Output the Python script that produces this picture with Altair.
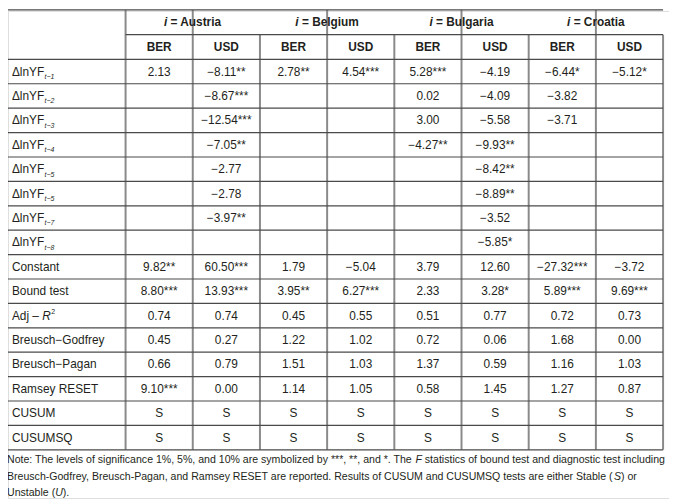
import altair as alt
import pandas as pd

# ---------------- data ----------------
countries = ["Austria", "Belgium", "Bulgaria", "Croatia"]
currencies = ["BER", "USD"]

lag_subscripts = ["t−1", "t−2", "t−3", "t−4", "t−5", "t−5", "t−7", "t−8"]
other_labels = ["Constant", "Bound test", "ADJR2", "Breusch−Godfrey", "Breusch−Pagan",
                "Ramsey RESET", "CUSUM", "CUSUMSQ"]

austria_ber = ["2.13", "", "", "", "", "", "", "", "9.82**", "8.80***", "0.74", "0.45", "0.66", "9.10***", "S", "S"]
austria_usd = ["−8.11**", "−8.67***", "−12.54***", "−7.05**", "−2.77", "−2.78", "−3.97**", "", "60.50***", "13.93***", "0.74", "0.27", "0.79", "0.00", "S", "S"]
belgium_ber = ["2.78**", "", "", "", "", "", "", "", "1.79", "3.95**", "0.45", "1.22", "1.51", "1.14", "S", "S"]
belgium_usd = ["4.54***", "", "", "", "", "", "", "", "−5.04", "6.27***", "0.55", "1.02", "1.03", "1.05", "S", "S"]
bulgaria_ber = ["5.28***", "0.02", "3.00", "−4.27**", "", "", "", "", "3.79", "2.33", "0.51", "0.72", "1.37", "0.58", "S", "S"]
bulgaria_usd = ["−4.19", "−4.09", "−5.58", "−9.93**", "−8.42**", "−8.89**", "−3.52", "−5.85*", "12.60", "3.28*", "0.77", "0.06", "0.59", "1.45", "S", "S"]
croatia_ber = ["−6.44*", "−3.82", "−3.71", "", "", "", "", "", "−27.32***", "5.89***", "0.72", "1.68", "1.16", "1.27", "S", "S"]
croatia_usd = ["−5.12*", "", "", "", "", "", "", "", "−3.72", "9.69***", "0.73", "0.00", "1.03", "0.87", "S", "S"]

columns = [austria_ber, austria_usd, belgium_ber, belgium_usd,
           bulgaria_ber, bulgaria_usd, croatia_ber, croatia_usd]

note_lines = [
    [("Note: The levels of significance 1%, 5%, and 10% are symbolized by ***, **, and *. The ", "normal"),
     ("F", "italic"),
     (" statistics of bound test and diagnostic test including", "normal")],
    [("Breusch-Godfrey, Breusch-Pagan, and Ramsey RESET are reported. Results of CUSUM and CUSUMSQ tests are either Stable (", "normal"),
     ("S", "italic"), (") or", "normal")],
    [("Unstable (", "normal"), ("U", "italic"), (").", "normal")],
]

# ---------------- layout ----------------
W, H = 669, 493
LEFT, TOP = -1, -1
LABEL_W, COL_W = 120, 68
HEAD_H, ROW_H = 25, 24.7
FONT = "Liberation Sans, Arial, Helvetica, sans-serif"
FS, NOTE_FS = 12, 10.7
TXT = "#231f20"

REG = dict(zip("ABCDEFGHIJKLMNOPQRSTUVWXYZ",
               [667, 667, 722, 722, 667, 611, 778, 722, 278, 500, 667, 556, 833, 722, 778, 667, 778, 722, 667, 611, 722, 667, 944, 667, 667, 611]))
REG.update(zip("abcdefghijklmnopqrstuvwxyz",
               [556, 556, 500, 556, 556, 278, 556, 556, 222, 222, 500, 222, 833, 556, 556, 556, 556, 333, 500, 278, 556, 500, 722, 500, 500, 500]))
BOLD = dict(zip("ABCDEFGHIJKLMNOPQRSTUVWXYZ",
                [722, 722, 722, 722, 667, 611, 778, 722, 278, 556, 722, 611, 833, 722, 778, 667, 778, 722, 667, 611, 722, 667, 944, 667, 667, 611]))
BOLD.update(zip("abcdefghijklmnopqrstuvwxyz",
                [556, 611, 556, 611, 556, 333, 611, 611, 278, 278, 556, 278, 889, 611, 611, 611, 611, 389, 556, 333, 611, 556, 778, 556, 556, 500]))
PUNCT = {" ": 278, "=": 584, "*": 389, "%": 889, ",": 278, ".": 278, ":": 278, "-": 333,
         "(": 333, ")": 333, "−": 584, "–": 556, "Δ": 668}
for d in (REG, BOLD):
    d.update(PUNCT)
    d.update({c: 556 for c in "0123456789"})


def tw(s, size, table=REG):
    return sum(table.get(c, 556) for c in s) * size / 1000.0


col_edges = [LEFT, LEFT + LABEL_W] + [LEFT + LABEL_W + COL_W * (k + 1) for k in range(8)]
n_rows = 16
row_edges = [TOP, TOP + HEAD_H, TOP + 2 * HEAD_H] + \
            [TOP + 2 * HEAD_H + ROW_H * (k + 1) for k in range(n_rows)]
x_right = col_edges[-1]
y_bottom = row_edges[-1]


def row_center(i):
    return TOP + 2 * HEAD_H + ROW_H * (i + 0.5)


def col_center(j):
    return col_edges[j + 1] + COL_W / 2


xs = alt.Scale(domain=[0, W], range=[0, W], nice=False, zero=False)
ys = alt.Scale(domain=[0, H], range=[0, H], nice=False, zero=False)

# ---------------- grid rules ----------------
hrules = [dict(x=LEFT, x2=x_right, y=TOP, y2=TOP),
          dict(x=col_edges[1], x2=x_right, y=row_edges[1], y2=row_edges[1])]
for yv in row_edges[2:]:
    hrules.append(dict(x=LEFT, x2=x_right, y=yv, y2=yv))
vrules = []
for k, xv in enumerate(col_edges):
    if k >= 2 and k % 2 == 1:  # split within a country
        vrules.append(dict(x=xv, x2=xv, y=row_edges[1], y2=y_bottom))
    else:
        vrules.append(dict(x=xv, x2=xv, y=TOP, y2=y_bottom))


def rule_layer(rows, color, width):
    return alt.Chart(pd.DataFrame(rows)).mark_rule(color=color, strokeWidth=width).encode(
        x=alt.X("x:Q", scale=xs, axis=None), x2="x2:Q",
        y=alt.Y("y:Q", scale=ys, axis=None), y2="y2:Q")


def text_layer(rows, size, weight="normal", style="normal", align="left", color=TXT):
    return alt.Chart(pd.DataFrame(rows)).mark_text(
        font=FONT, fontSize=size, fontWeight=weight, fontStyle=style,
        align=align, baseline="middle", color=color).encode(
        x=alt.X("x:Q", scale=xs, axis=None),
        y=alt.Y("y:Q", scale=ys, axis=None),
        text="t:N")


def place(xcur, txt, size, table=REG):
    """Return (x for the stripped text, stripped text, x after the segment)."""
    lead = len(txt) - len(txt.lstrip(" "))
    core = txt.strip(" ")
    x0 = xcur + tw(" " * lead, size, table)
    return x0, core, xcur + tw(txt, size, table)


# ---------------- texts ----------------
cells = []
for j, col in enumerate(columns):
    for i, v in enumerate(col):
        if v:
            cells.append(dict(x=col_center(j), y=row_center(i), t=v))

heads2 = []
for j in range(8):
    heads2.append(dict(x=col_center(j), y=TOP + HEAD_H * 1.5, t=currencies[j % 2]))

heads_i, heads_rest = [], []
for c_i, c in enumerate(countries):
    cx = (col_edges[1 + 2 * c_i] + col_edges[3 + 2 * c_i]) / 2
    rest = " = " + c
    wi = tw("i", FS, BOLD)
    wt = wi + tw(rest, FS, BOLD)
    x0 = cx - wt / 2
    heads_i.append(dict(x=x0, y=TOP + HEAD_H * 0.5, t="i"))
    rx, core, _ = place(x0 + wi, rest, FS, BOLD)
    heads_rest.append(dict(x=rx, y=TOP + HEAD_H * 0.5, t=core))

LX = LEFT + 5
labels, subs = [], []
for i, s in enumerate(lag_subscripts):
    labels.append(dict(x=LX, y=row_center(i), t="ΔlnYF"))
    subs.append(dict(x=LX + tw("ΔlnYF", FS) + 0.3, y=row_center(i) + 5.5, t=s))
adj_r, adj_sup = [], []
for k, s in enumerate(other_labels):
    i = 8 + k
    if s == "ADJR2":
        pre = "Adj – "
        labels.append(dict(x=LX, y=row_center(i), t=pre.strip()))
        rx = LX + tw(pre, FS)
        adj_r.append(dict(x=rx, y=row_center(i), t="R"))
        adj_sup.append(dict(x=rx + tw("R", FS) + 0.5, y=row_center(i) - 3.5, t="2"))
    else:
        labels.append(dict(x=LX, y=row_center(i), t=s))

note_norm, note_it = [], []
NOTE_Y0, NOTE_DY = 455, 16.3
for li, parts in enumerate(note_lines):
    xcur = LEFT
    for txt, st in parts:
        x0, core, xcur = place(xcur, txt, NOTE_FS)
        rec = dict(x=x0, y=NOTE_Y0 + NOTE_DY * li, t=core)
        (note_it if st == "italic" else note_norm).append(rec)

layers = [
    rule_layer(vrules, "#8a8a8a", 2),
    rule_layer(hrules, "#4a4a4a", 1.2),
    text_layer(cells, FS, align="center"),
    text_layer(heads2, FS, weight="bold", align="center"),
    text_layer(heads_i, FS, weight="bold", style="italic"),
    text_layer(heads_rest, FS, weight="bold"),
    text_layer(labels, FS),
    text_layer(subs, 7, style="italic"),
    text_layer(adj_r, FS, style="italic"),
    text_layer(adj_sup, 7),
    text_layer(note_norm, NOTE_FS),
    text_layer(note_it, NOTE_FS, style="italic"),
]

chart = alt.layer(*layers).properties(
    width=W, height=H, autosize=alt.AutoSizeParams(type="none"), padding=0
).configure_view(strokeWidth=0).configure(background="white")

chart.save("out.html", embed_options={"renderer": "svg", "actions": False})
